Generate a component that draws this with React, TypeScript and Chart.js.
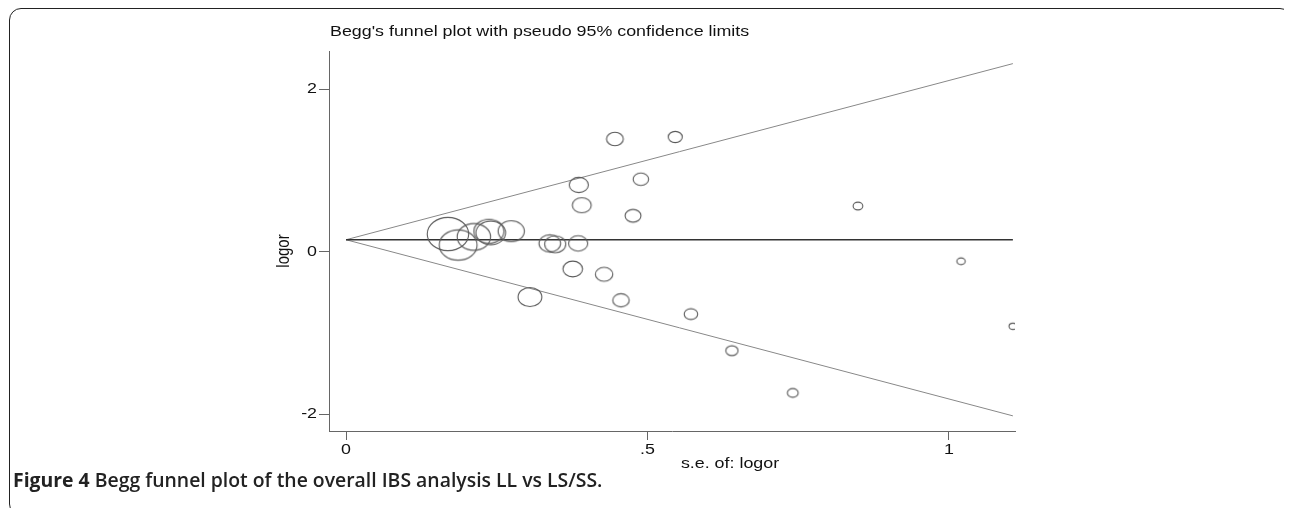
import React, { useEffect, useRef } from "react";
import { Chart, registerables } from "chart.js";

Chart.register(...registerables);

// ---- data ----
const studySE: number[] = [
  0.169, 0.186, 0.212, 0.237, 0.240, 0.274, 0.305, 0.338, 0.347, 0.376,
  0.385, 0.386, 0.391, 0.428, 0.446, 0.456, 0.476, 0.489, 0.546, 0.572,
  0.640, 0.741, 0.849, 1.020, 1.106,
];
const studyLogOR: number[] = [
  0.215, 0.08, 0.18, 0.25, 0.23, 0.25, -0.56, 0.10, 0.09, -0.215,
  0.10, 0.82, 0.57, -0.28, 1.385, -0.60, 0.44, 0.89, 1.41, -0.77,
  -1.22, -1.74, 0.56, -0.12, -0.92,
];
const pooledLogOR = 0.145;
const zCrit = 1.96;

const xTickValues: number[] = [0, 0.5, 1];
const xTickLabels: string[] = ["0", ".5", "1"];
const yTickValues: number[] = [-2, 0, 2];
const yTickLabels: string[] = ["-2", "0", "2"];

const chartTitle = "Begg's funnel plot with pseudo 95% confidence limits";
const xAxisTitle = "s.e. of: logor";
const yAxisTitle = "logor";
const captionBold = "Figure 4";
const captionRest = " Begg funnel plot of the overall IBS analysis LL vs LS/SS.";

const W = 1292;
const H = 516;
const FONT = '"Liberation Sans", Arial, sans-serif';
const STRETCH = 1.19; // the reference graphic is stretched horizontally

function ellipseMarker(rx: number, ry: number): HTMLCanvasElement {
  const cv = document.createElement("canvas");
  cv.width = Math.ceil(rx * 2 + 4);
  cv.height = Math.ceil(ry * 2 + 4);
  const c = cv.getContext("2d")!;
  c.strokeStyle = "#5a5a5a";
  c.lineWidth = 1.1;
  c.beginPath();
  c.ellipse(cv.width / 2, cv.height / 2, rx, ry, 0, 0, Math.PI * 2);
  c.stroke();
  return cv;
}

function stretchedText(c: CanvasRenderingContext2D, t: string, x: number, y: number, align: "left" | "center" | "right") {
  c.save();
  c.translate(x, y);
  c.scale(STRETCH, 1);
  c.textAlign = align;
  c.fillText(t, 0, 0);
  c.restore();
}

export default function App() {
  const ref = useRef<HTMLCanvasElement | null>(null);

  useEffect(() => {
    if (!ref.current) return;
    const seMax = Math.max(...studySE);
    const points = studySE.map((s, i) => ({ x: s, y: studyLogOR[i] }));
    const rxs = studySE.map((s) => 0.9 + 3.35 / s);
    const markers = rxs.map((rx) => ellipseMarker(rx, rx / 1.25));

    const textPlugin = {
      id: "stataText",
      afterDraw(chart: any) {
        const c = chart.ctx as CanvasRenderingContext2D;
        const xs = chart.scales.x;
        const ys = chart.scales.y;
        const area = chart.chartArea;
        c.save();
        c.fillStyle = "#111";
        c.font = `15px ${FONT}`;
        c.textBaseline = "middle";
        stretchedText(c, chartTitle, 330, 32, "left");
        xTickValues.forEach((v, i) => {
          stretchedText(c, xTickLabels[i], xs.getPixelForValue(v), area.bottom + 19, "center");
        });
        yTickValues.forEach((v, i) => {
          stretchedText(c, yTickLabels[i], area.left - 12, ys.getPixelForValue(v), "right");
        });
        stretchedText(c, xAxisTitle, 730, 464, "center");
        c.translate(284, 251);
        c.rotate(-Math.PI / 2);
        c.scale(1, STRETCH);
        c.textAlign = "center";
        c.fillText(yAxisTitle, 0, 0);
        c.restore();
      },
    };

    const chart = new Chart(ref.current, {
      type: "scatter",
      data: {
        datasets: [
          {
            label: "studies",
            data: points,
            pointRadius: rxs,
            pointStyle: markers,
            backgroundColor: "rgba(0,0,0,0)",
            borderColor: "#5a5a5a",
            showLine: false,
          },
          {
            label: "pooled",
            data: [
              { x: 0, y: pooledLogOR },
              { x: seMax, y: pooledLogOR },
            ],
            showLine: true,
            pointRadius: 0,
            borderColor: "#333",
            borderWidth: 1.5,
          },
          {
            label: "upper",
            data: [
              { x: 0, y: pooledLogOR },
              { x: seMax, y: pooledLogOR + zCrit * seMax },
            ],
            showLine: true,
            pointRadius: 0,
            borderColor: "#888",
            borderWidth: 1,
          },
          {
            label: "lower",
            data: [
              { x: 0, y: pooledLogOR },
              { x: seMax, y: pooledLogOR - zCrit * seMax },
            ],
            showLine: true,
            pointRadius: 0,
            borderColor: "#888",
            borderWidth: 1,
          },
        ],
      },
      options: {
        animation: false,
        responsive: false,
        devicePixelRatio: 1,
        events: [],
        layout: { padding: { left: 0, top: 51, right: W - 1015, bottom: 0 } },
        plugins: {
          legend: { display: false },
          tooltip: { enabled: false },
          title: { display: false },
        },
        scales: {
          x: {
            type: "linear",
            min: -0.0282,
            max: 1.1095,
            afterBuildTicks: (s: any) => {
              s.ticks = xTickValues.map((v) => ({ value: v }));
            },
            afterFit: (s: any) => {
              s.height = H - 431;
            },
            ticks: { display: false, autoSkip: false },
            grid: { drawOnChartArea: false, drawTicks: true, tickLength: 9, color: "#666" },
            border: { display: true, color: "#666", width: 1 },
          },
          y: {
            type: "linear",
            min: -2.209,
            max: 2.468,
            afterBuildTicks: (s: any) => {
              s.ticks = yTickValues.map((v) => ({ value: v }));
            },
            afterFit: (s: any) => {
              s.width = 329;
            },
            ticks: { display: false, autoSkip: false },
            grid: { drawOnChartArea: false, drawTicks: true, tickLength: 10, color: "#666" },
            border: { display: true, color: "#666", width: 1 },
          },
        },
      },
      plugins: [textPlugin],
    } as any);
    return () => chart.destroy();
  }, []);

  return (
    <div style={{ position: "relative", width: W, height: H, margin: -8, overflow: "hidden", background: "#fff" }}>
      <div
        style={{
          position: "absolute",
          left: 9,
          top: 8,
          width: 1283,
          height: 508,
          boxSizing: "border-box",
          border: "1.5px solid #222",
          borderRadius: 12,
        }}
      />
      <canvas ref={ref} width={W} height={H} style={{ position: "absolute", left: 0, top: 0, width: W, height: H }} />
      <div
        style={{
          position: "absolute",
          left: 13,
          top: 468,
          fontFamily: '"Open Sans", sans-serif',
          fontSize: 19.4,
          color: "#222",
          whiteSpace: "nowrap",
          lineHeight: "24px",
        }}
      >
        <span style={{ fontWeight: 700 }}>{captionBold}</span>
        <span style={{ fontWeight: 600 }}>{captionRest}</span>
      </div>
    </div>
  );
}
